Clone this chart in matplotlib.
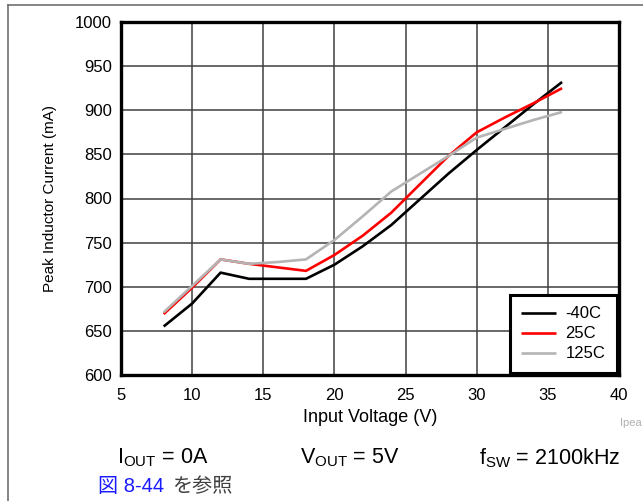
import matplotlib
matplotlib.use("Agg")
import matplotlib.pyplot as plt
from matplotlib.lines import Line2D

plt.rcParams["font.family"] = ["Liberation Sans", "Noto Sans CJK JP", "DejaVu Sans"]
plt.rcParams["mathtext.fontset"] = "custom"
plt.rcParams["mathtext.rm"] = "Liberation Sans"
plt.rcParams["mathtext.it"] = "Liberation Sans"

# Input voltage (V)
vin = [8, 10, 12, 14, 16, 18, 20, 22, 24, 26, 28, 30, 32, 34, 36]
# Peak inductor current (mA) per temperature
i_m40 = [655, 681, 716, 709, 709, 709, 725, 746, 770, 799, 828, 855, 881, 907, 932]
i_25 = [669, 699, 731, 726, 722, 718, 736, 758, 784, 816, 848, 875, 892, 908, 925]
i_125 = [671, 701, 731, 726, 728, 731, 753, 780, 808, 828, 848, 869, 879, 889, 898]

series_labels = ["-40C", "25C", "125C"]
series_colors = ["#000000", "#ff0000", "#b4b4b4"]

x_ticks = [5, 10, 15, 20, 25, 30, 35, 40]
y_ticks = [600, 650, 700, 750, 800, 850, 900, 950, 1000]

fig = plt.figure(figsize=(6.43, 5.01), dpi=100)
ax = fig.add_axes([121 / 643, 1 - 375 / 501, 498 / 643, 353 / 501])

for ys, lab, col in zip([i_m40, i_25, i_125], series_labels, series_colors):
    ax.plot(vin, ys, color=col, lw=1.9, label=lab, solid_capstyle="butt", zorder=3)

ax.set_xlim(5, 40)
ax.set_ylim(600, 1000)
ax.set_xticks(x_ticks)
ax.set_yticks(y_ticks)
ax.tick_params(length=0, labelsize=12)
ax.tick_params(axis="x", pad=9.5)
ax.tick_params(axis="y", pad=6.5)
ax.grid(True, color="#404040", lw=1.1)
ax.set_axisbelow(True)
for sp in ax.spines.values():
    sp.set_linewidth(2.4)
    sp.set_color("black")

ax.set_xlabel("Input Voltage (V)", fontsize=13, labelpad=4)
ax.set_ylabel("Peak Inductor Current (mA)", fontsize=11, labelpad=13)

leg = ax.legend(loc="lower right", bbox_to_anchor=(496 / 498, 2 / 353), fontsize=12,
                frameon=True, fancybox=False, edgecolor="black", framealpha=1,
                handlelength=2.1, handletextpad=0.55, borderpad=0.7,
                labelspacing=0.3, borderaxespad=0.0)
leg.get_frame().set_linewidth(2.2)

# figure border lines
fig.add_artist(Line2D([8 / 643, 1], [1 - 5 / 501, 1 - 5 / 501], color="#707070", lw=1.2))
fig.add_artist(Line2D([8 / 643, 8 / 643], [0, 1 - 5 / 501], color="#707070", lw=1.2))

fig.text(620 / 643, 1 - 423 / 501, "Ipea", fontsize=8, color="#b0b0b0", va="center", ha="left")

fig.text(117 / 643, 1 - 458 / 501, r"$\mathrm{I_{OUT}}$ = 0A", fontsize=15.5, va="center", ha="left")
fig.text(300 / 643, 1 - 458 / 501, r"$\mathrm{V_{OUT}}$ = 5V", fontsize=15.5, va="center", ha="left")
fig.text(479 / 643, 1 - 458 / 501, r"$\mathrm{f_{SW}}$ = 2100kHz", fontsize=15.5, va="center", ha="left")

fig.text(98 / 643, 1 - 487 / 501, "図 8-44", fontsize=14.5, color="#1a1aff", va="center", ha="left")
fig.text(172 / 643, 1 - 487 / 501, "を参照", fontsize=14.5, color="#404040", va="center", ha="left")

fig.savefig("out.png", dpi=100)
